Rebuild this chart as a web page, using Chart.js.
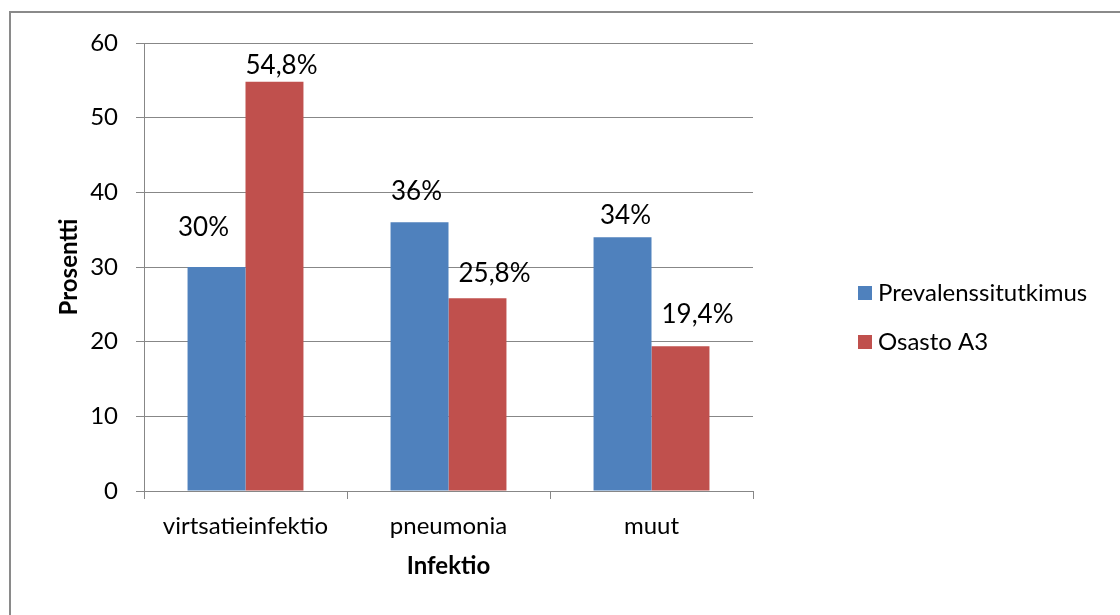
<!DOCTYPE html>
<html>
<head>
<meta charset="utf-8">
<script src="https://cdn.jsdelivr.net/npm/chart.js@4/dist/chart.umd.min.js"></script>
<style>
  html, body { margin: 0; padding: 0; background: #ffffff; }
  #wrap { width: 1120px; height: 615px; position: relative; }
</style>
</head>
<body>
<div id="wrap"><canvas id="c" width="1120" height="615"></canvas></div>
<script>
const categories = ['virtsatieinfektio', 'pneumonia', 'muut'];
const seriesNames = ['Prevalenssitutkimus', 'Osasto A3'];
const prevalenssi = [30, 36, 34];
const osastoA3 = [54.8, 25.8, 19.4];
const prevalenssiLabels = ['30%', '36%', '34%'];
const osastoLabels = ['54,8%', '25,8%', '19,4%'];
const yTicks = [0, 10, 20, 30, 40, 50, 60];

const FONT = 'Lato, "Open Sans", "Liberation Sans", sans-serif';
const GRID = '#878787';

const frame = {
  id: 'frame',
  beforeDraw(chart) {
    const ctx = chart.ctx;
    ctx.save();
    ctx.fillStyle = '#ffffff';
    ctx.fillRect(0, 0, chart.width, chart.height);
    ctx.strokeStyle = '#8a8a8a';
    ctx.lineWidth = 2;
    ctx.strokeRect(10, 12, chart.width + 20, chart.height + 20);
    ctx.restore();
  }
};

const valueLabels = {
  id: 'valueLabels',
  afterDatasetsDraw(chart, args, opts) {
    const ctx = chart.ctx;
    ctx.save();
    ctx.font = '26px ' + FONT;
    ctx.fillStyle = '#000000';
    ctx.textAlign = 'center';
    ctx.textBaseline = 'alphabetic';
    chart.data.datasets.forEach((ds, di) => {
      const meta = chart.getDatasetMeta(di);
      meta.data.forEach((bar, i) => {
        const off = opts.offsets[di][i];
        ctx.fillText(ds.valueText[i], bar.x + off[0], bar.y - off[1]);
      });
    });
    ctx.restore();
  }
};

const sideLegend = {
  id: 'sideLegend',
  afterDraw(chart, args, opts) {
    const ctx = chart.ctx;
    ctx.save();
    ctx.font = '24px ' + FONT;
    ctx.textBaseline = 'alphabetic';
    ctx.textAlign = 'left';
    chart.data.datasets.forEach((ds, i) => {
      const y = opts.top + i * opts.step;
      ctx.fillStyle = ds.backgroundColor;
      ctx.fillRect(opts.left, y, opts.box, opts.box);
      ctx.fillStyle = '#000000';
      ctx.fillText(ds.label, opts.left + opts.box + 6, y + opts.box + 1);
    });
    ctx.restore();
  }
};

new Chart(document.getElementById('c'), {
  type: 'bar',
  data: {
    labels: categories,
    datasets: [
      { label: seriesNames[0], data: prevalenssi, valueText: prevalenssiLabels, backgroundColor: '#4F81BD' },
      { label: seriesNames[1], data: osastoA3, valueText: osastoLabels, backgroundColor: '#C0504D' }
    ]
  },
  options: {
    responsive: false,
    animation: false,
    devicePixelRatio: 1,
    layout: { padding: { top: 43, left: 0, right: 367, bottom: 0 } },
    datasets: { bar: { categoryPercentage: 0.571, barPercentage: 1.0 } },
    plugins: {
      legend: { display: false },
      tooltip: { enabled: false },
      valueLabels: {
        offsets: [
          [[-13, 31], [-3, 22], [3, 13]],
          [[7, 8], [17, 16], [17, 23]]
        ]
      },
      sideLegend: { left: 858, top: 286, step: 49, box: 14 }
    },
    scales: {
      x: {
        grid: { offset: true, drawOnChartArea: false, drawTicks: true, tickLength: 8, color: GRID, lineWidth: 1 },
        border: { display: true, color: GRID, width: 1 },
        ticks: { color: '#000000', font: { family: FONT, size: 24 }, padding: 13, maxRotation: 0 },
        title: { display: true, text: 'Infektio', color: '#000000', font: { family: FONT, size: 24, weight: 'bold' }, padding: { top: 0, bottom: 34 } },
        afterFit(scale) { scale.height = 124; }
      },
      y: {
        min: 0, max: 60,
        afterBuildTicks(scale) { scale.ticks = yTicks.map(v => ({ value: v })); },
        grid: { color: GRID, lineWidth: 1, tickLength: 8, drawTicks: true },
        border: { display: true, color: GRID, width: 1 },
        ticks: { color: '#000000', font: { family: FONT, size: 24 }, padding: 18 },
        title: { display: true, text: 'Prosentti', color: '#000000', font: { family: FONT, size: 24, weight: 'bold' }, padding: { top: 55, bottom: 0 } },
        afterFit(scale) { scale.width = 144; }
      }
    }
  },
  plugins: [frame, valueLabels, sideLegend]
});
</script>
</body>
</html>
